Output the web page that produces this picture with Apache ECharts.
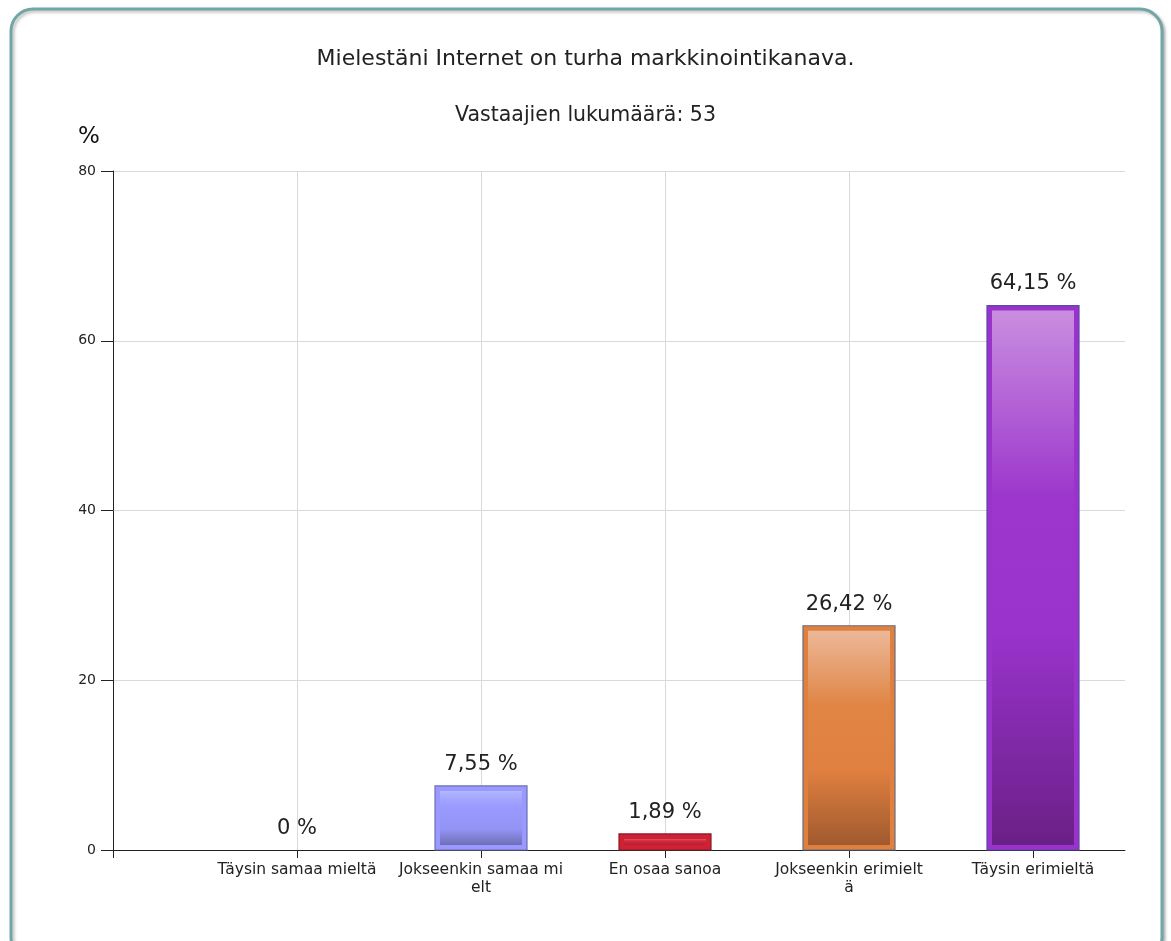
<!DOCTYPE html>
<html>
<head>
<meta charset="utf-8">
<script src="https://cdn.jsdelivr.net/npm/echarts@6/dist/echarts.min.js"></script>
<style>
html,body{margin:0;padding:0;background:#fff;}
#chart{width:1171px;height:941px;}
</style>
</head>
<body>
<div id="chart"></div>
<script>
// ---- data ----
const titleText = 'Mielestäni Internet on turha markkinointikanava.';
const subtitleText = 'Vastaajien lukumäärä: 53';
const categories = ['Täysin samaa mieltä', 'Jokseenkin samaa mi\nelt', 'En osaa sanoa', 'Jokseenkin erimielt\nä', 'Täysin erimieltä'];
const values = [0, 7.55, 1.89, 26.42, 64.15];
const yTicks = [0, 20, 40, 60, 80];

// ---- styles ----
const FONT = '"DejaVu Sans", Verdana, sans-serif';
const frameColors = ['#9999ff', '#9999ff', '#cc2233', '#e08040', '#9933cc'];
const edgeColors = ['#6a70b0', '#6a70b0', '#8b1a28', '#6b6b7a', '#5a4aa8'];
const gradStops = [
  [[0,'#b3b6ff'],[0.15,'#a3a6ff'],[0.3,'#9999ff'],[0.7,'#9494f5'],[1,'#6f6fb8']],
  [[0,'#b3b6ff'],[0.15,'#a3a6ff'],[0.3,'#9999ff'],[0.7,'#9494f5'],[1,'#6f6fb8']],
  [[0,'#e25368'],[0.35,'#d02a3c'],[1,'#bf1d2f']],
  [[0,'#ecb898'],[0.35,'#e08544'],[0.65,'#e08040'],[1,'#a05a2e']],
  [[0,'#c98ee0'],[0.35,'#9c36cc'],[0.6,'#9933cc'],[1,'#6a2086']]
];

function fmt(v){ return (v === 0 ? '0' : v.toFixed(2).replace('.', ',')) + ' %'; }

const chart = echarts.init(document.getElementById('chart'), null, {renderer:'canvas'});
const seriesData = values.map((v, i) => [i, v]);

chart.setOption({
  animation: false,
  backgroundColor: '#ffffff',
  graphic: [{
    type: 'rect', z: -10, silent: true,
    shape: {x: 11, y: 9, width: 1151, height: 950, r: 22},
    style: {fill: '#ffffff', stroke: '#6fa6a6', lineWidth: 3,
      shadowBlur: 3, shadowOffsetX: 2, shadowOffsetY: 2, shadowColor: 'rgba(0,0,0,0.25)'}
  }],
  title: [
    {text: titleText, left: 'center', top: 43,
      textStyle: {fontFamily: FONT, fontSize: 22, fontWeight: 'normal', color: '#222'}},
    {text: subtitleText, left: 'center', top: 100,
      textStyle: {fontFamily: FONT, fontSize: 20.5, fontWeight: 'normal', color: '#222'}},
    {text: '%', left: 73, top: 121,
      textStyle: {fontFamily: FONT, fontSize: 23, fontWeight: 'normal', color: '#111'}}
  ],
  grid: {left: 113, right: 46, top: 171, bottom: 91, containLabel: false},
  xAxis: {
    type: 'value', min: -1, max: 4.5, interval: 1,
    axisLine: {show: true, onZero: false, lineStyle: {color: '#222', width: 1}},
    axisTick: {show: true, length: 8, lineStyle: {color: '#222'}, customValues: [-1, 0, 1, 2, 3, 4]},
    axisLabel: {
      show: true, margin: 11, fontFamily: FONT, fontSize: 15.5, color: '#222', lineHeight: 18,
      customValues: [0, 1, 2, 3, 4],
      formatter: function(v){ return categories[Math.round(v)] || ''; }
    },
    splitLine: {show: true, showMaxLine: false, showMinLine: false, lineStyle: {color: '#d9d9d9', width: 1}}
  },
  yAxis: {
    type: 'value', min: 0, max: 80, interval: 20,
    axisLine: {show: true, onZero: false, lineStyle: {color: '#222', width: 1}},
    axisTick: {show: true, length: 12, lineStyle: {color: '#222'}},
    axisLabel: {margin: 17, fontFamily: FONT, fontSize: 14, color: '#222',
      formatter: function(v){ return yTicks.indexOf(v) >= 0 ? String(v) : ''; }},
    splitLine: {show: true, lineStyle: {color: '#d9d9d9', width: 1}}
  },
  series: [{
    type: 'custom',
    data: seriesData,
    clip: false,
    renderItem: function(params, api){
      const i = params.dataIndex;
      const x = api.value(0), v = api.value(1);
      const base = api.coord([x, 0]);
      const top = api.coord([x, v]);
      const w = api.size([1, 0])[0] * 0.5;
      const h = base[1] - top[1];
      const left = base[0] - w / 2;
      const children = [];
      if (h > 0.5) {
        children.push({type: 'rect', shape: {x: left, y: top[1], width: w, height: h},
          style: {fill: frameColors[i], stroke: edgeColors[i], lineWidth: 1.2}});
        const inset = 5;
        if (h > 2 * inset) {
          children.push({type: 'rect', shape: {x: left + inset, y: top[1] + inset, width: w - 2*inset, height: h - 2*inset},
            style: {fill: new echarts.graphic.LinearGradient(0, 0, 0, 1,
              gradStops[i].map(s => ({offset: s[0], color: s[1]})))}});
        }
      }
      children.push({type: 'text', style: {text: fmt(v), x: base[0], y: top[1] - 11,
        align: 'center', verticalAlign: 'bottom', font: '21px ' + FONT, fill: '#222'}});
      return {type: 'group', children: children};
    }
  }]
});
</script>
</body>
</html>
